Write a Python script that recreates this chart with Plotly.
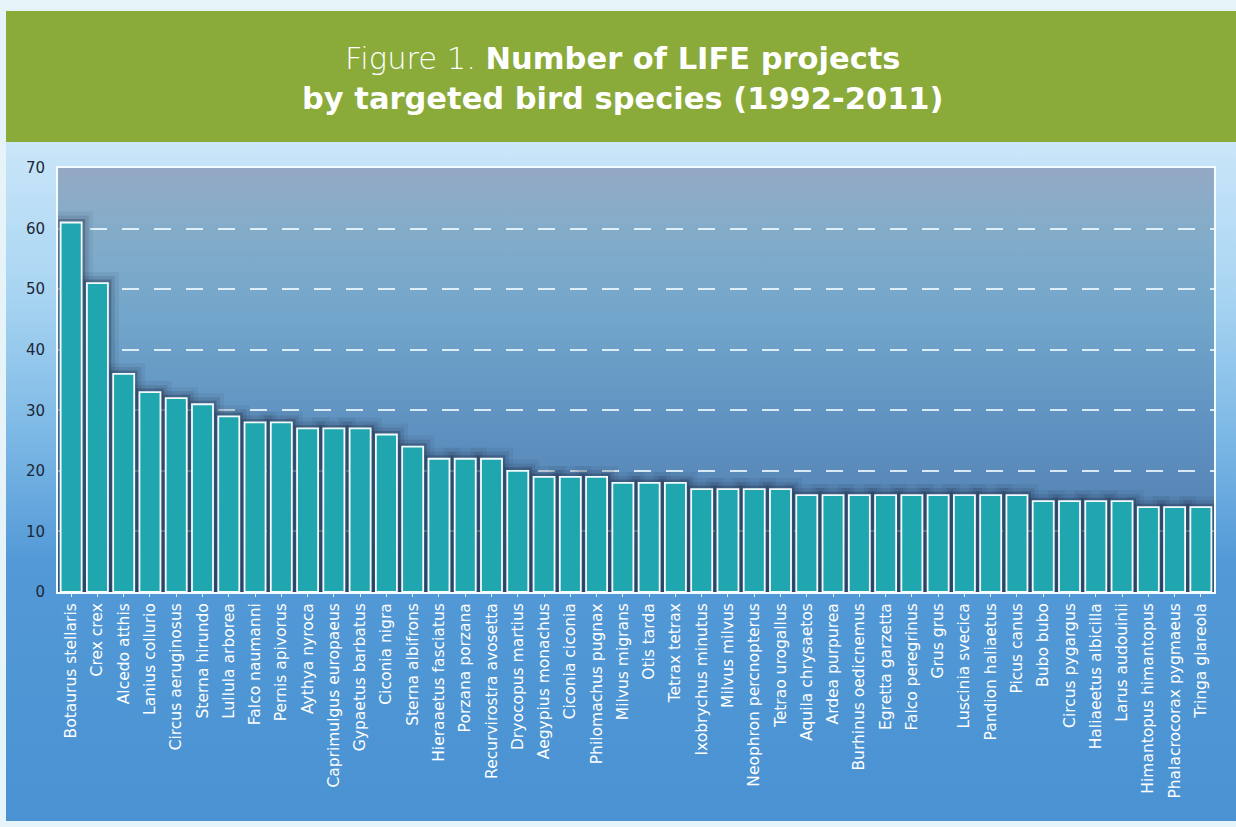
import base64
import plotly.graph_objects as go

species = [
    "Botaurus stellaris", "Crex crex", "Alcedo atthis", "Lanius collurio",
    "Circus aeruginosus", "Sterna hirundo", "Lullula arborea", "Falco naumanni",
    "Pernis apivorus", "Aythya nyroca", "Caprimulgus europaeus", "Gypaetus barbatus",
    "Ciconia nigra", "Sterna albifrons", "Hieraaetus fasciatus", "Porzana porzana",
    "Recurvirostra avosetta", "Dryocopus martius", "Aegypius monachus", "Ciconia ciconia",
    "Philomachus pugnax", "Milvus migrans", "Otis tarda", "Tetrax tetrax",
    "Ixobrychus minutus", "Milvus milvus", "Neophron percnopterus", "Tetrao urogallus",
    "Aquila chrysaetos", "Ardea purpurea", "Burhinus oedicnemus", "Egretta garzetta",
    "Falco peregrinus", "Grus grus", "Luscinia svecica", "Pandion haliaetus",
    "Picus canus", "Bubo bubo", "Circus pygargus", "Haliaeetus albicilla",
    "Larus audouinii", "Himantopus himantopus", "Phalacrocorax pygmaeus", "Tringa glareola",
]
projects = [
    61, 51, 36, 33, 32, 31, 29, 28, 28, 27, 27, 27, 26, 24, 22, 22, 22, 20, 19, 19,
    19, 18, 18, 18, 17, 17, 17, 17, 16, 16, 16, 16, 16, 16, 16, 16, 16, 15, 15, 15,
    15, 14, 14, 14,
]
y_ticks = [0, 10, 20, 30, 40, 50, 60, 70]

W, H = 1236, 827
PL, PR, PT, PB = 58, 1214, 168, 592  # plot area in pixels
pw, ph = PR - PL, PB - PT


def px_x(x):
    return (x - PL) / pw


def px_y(y):
    return (PB - y) / ph


def grad_uri(stops):
    st = "".join(f'<stop offset="{o}" stop-color="{c}"/>' for o, c in stops)
    svg = (
        '<svg xmlns="http://www.w3.org/2000/svg" width="100" height="100" '
        'viewBox="0 0 100 100" preserveAspectRatio="none">'
        f'<defs><linearGradient id="g" x1="0" y1="0" x2="0" y2="1">{st}</linearGradient></defs>'
        '<rect x="0" y="0" width="100" height="100" fill="url(#g)"/></svg>'
    )
    return "data:image/svg+xml;base64," + base64.b64encode(svg.encode()).decode()


panel_grad = grad_uri([
    (0, "#cae6f9"), (0.22, "#a9d5f2"), (0.42, "#7fbae6"),
    (0.62, "#5399d7"), (1, "#4a92d2"),
])
plot_grad = grad_uri([
    (0, "#94a8c4"), (0.12, "#86adc9"), (0.35, "#72a6ca"),
    (0.6, "#6092c1"), (0.85, "#5383b4"), (1, "#4775a5"),
])

fig = go.Figure()

# soft dark halo behind bars (same data, wide translucent outlines)
for lw, a in [(22, 0.08), (14, 0.14), (7, 0.32)]:
    fig.add_trace(go.Bar(
        x=species, y=projects, width=0.8,
        marker=dict(color="rgba(33,48,74,%.2f)" % a,
                    line=dict(color="rgba(33,48,74,%.2f)" % a, width=lw)),
        hoverinfo="skip", showlegend=False,
    ))

fig.add_trace(go.Bar(
    x=species, y=projects, width=0.8,
    marker=dict(color="#1fa6ae", line=dict(color="#f2fbff", width=1.8)),
    showlegend=False,
))

fig.update_layout(
    width=W, height=H,
    margin=dict(l=PL, r=W - PR, t=PT, b=H - PB, pad=0),
    paper_bgcolor="#e6f4fa",
    plot_bgcolor="rgba(0,0,0,0)",
    barmode="overlay",
    images=[
        dict(source=panel_grad, xref="paper", yref="paper",
             x=px_x(6), y=px_y(142), sizex=(W - 6) / pw, sizey=(821 - 142) / ph,
             sizing="stretch", xanchor="left", yanchor="top", layer="below"),
        dict(source=plot_grad, xref="paper", yref="paper",
             x=0, y=1, sizex=1, sizey=1,
             sizing="stretch", xanchor="left", yanchor="top", layer="below"),
    ],
    shapes=[
        dict(type="rect", xref="paper", yref="paper", layer="below",
             x0=px_x(6), x1=px_x(W), y0=px_y(142), y1=px_y(11),
             fillcolor="#8aaa3a", line=dict(width=0)),
    ],
    annotations=[
        dict(xref="paper", yref="paper", x=px_x(623), y=px_y(79),
             xanchor="center", yanchor="middle", showarrow=False,
             text="Figure 1. <b>Number of LIFE projects</b><br><b>by targeted bird species (1992-2011)</b>",
             font=dict(family="DejaVu Sans, sans-serif", size=30.5, color="#ffffff", weight=300),
             align="center"),
    ],
    bargap=0.2,
)

fig.update_xaxes(
    type="category", categoryorder="array", categoryarray=species,
    tickangle=-90, tickfont=dict(family="DejaVu Sans", size=15.5, color="#ffffff"),
    showline=True, linecolor="#f2fbff", linewidth=2, mirror=True,
    ticks="outside", ticklen=3, tickcolor="#e0f0fa", tickwidth=1,
    showgrid=False, fixedrange=True,
)
fig.update_yaxes(
    range=[0, 70], tickmode="array", tickvals=y_ticks,
    tickfont=dict(family="DejaVu Sans", size=15, color="#1c2836"),
    showline=True, linecolor="#f2fbff", linewidth=2, mirror=True,
    showgrid=True, gridcolor="rgba(240,250,255,0.85)", gridwidth=2,
    griddash="17px,15px", zeroline=False, ticks="", ticklabelstandoff=8,
    fixedrange=True,
)

fig.write_html(
    "out.html",
    config={"displayModeBar": False},
    post_script="document.body.style.margin='0';document.body.style.overflow='hidden';"
                "document.body.style.background='#e6f4fa';",
)
